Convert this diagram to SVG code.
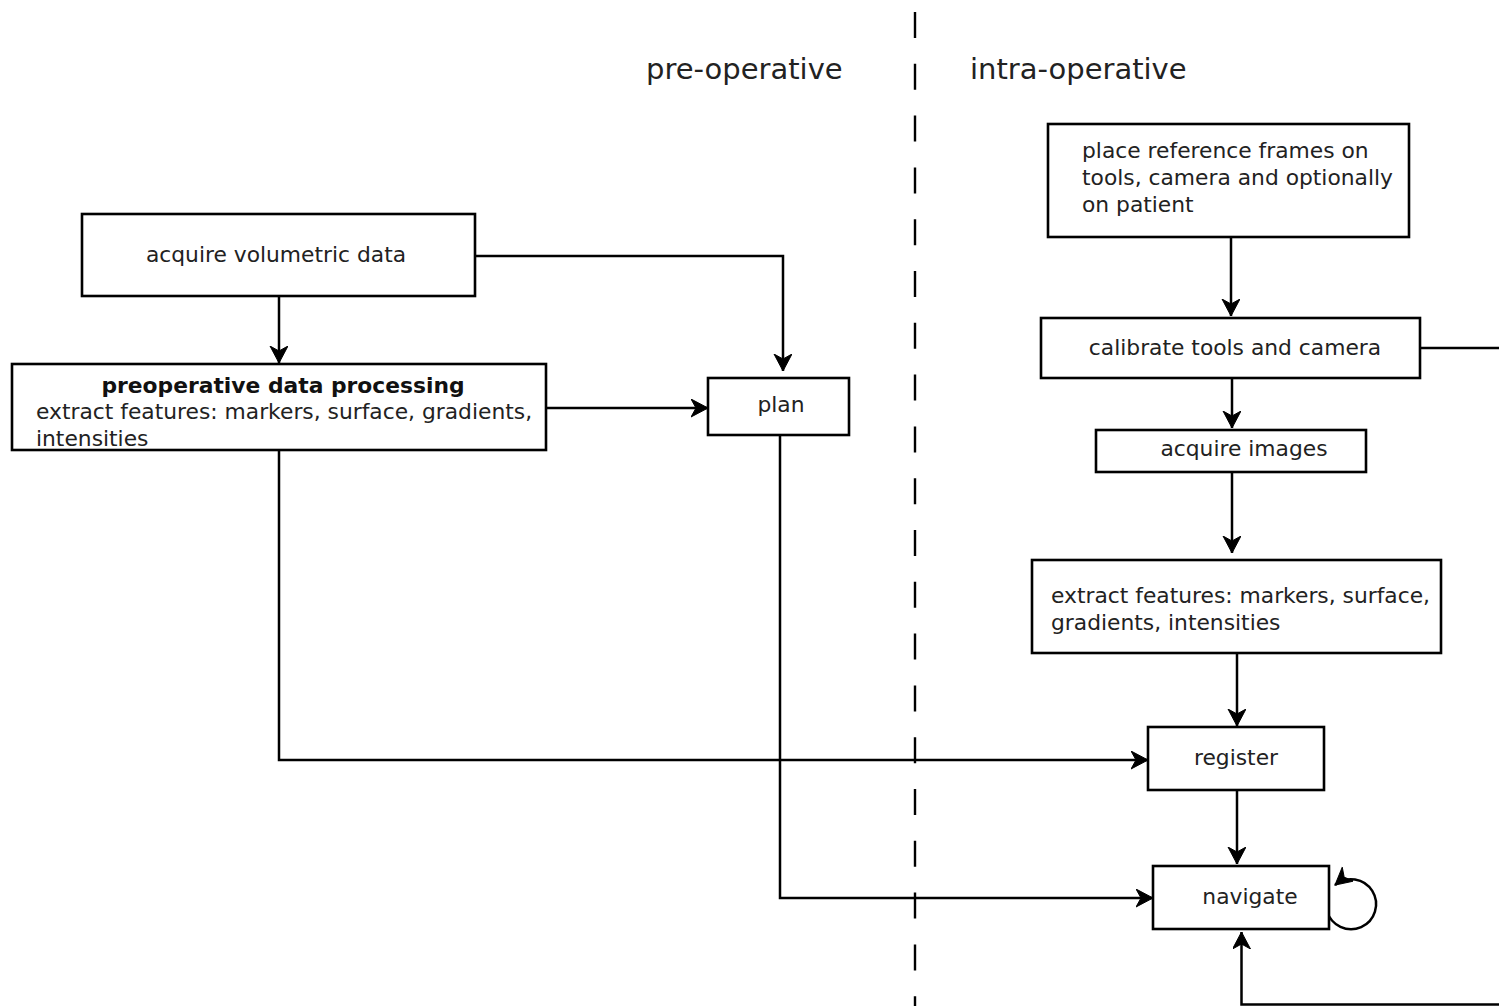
<svg xmlns="http://www.w3.org/2000/svg" width="1499" height="1006" viewBox="0 0 1499 1006">
<style>
.box{fill:#fff;stroke:#000;stroke-width:2.6}
.t{font-family:"DejaVu Sans","Liberation Sans",sans-serif;font-size:21.8px;fill:#222}
.b{font-weight:bold;fill:#111}
.title{font-family:"DejaVu Sans","Liberation Sans",sans-serif;font-size:29px;fill:#222}
.c{fill:none;stroke:#000;stroke-width:2.5}
.a{marker-end:url(#arr)}
</style>
<defs>
<marker id="arr" markerUnits="userSpaceOnUse" markerWidth="20" markerHeight="20" refX="17" refY="9" orient="auto">
<path d="M0,0 L17,9 L0,18 L5,9 z" fill="#000" stroke="#000" stroke-width="1" stroke-linejoin="miter"/>
</marker>
</defs>
<rect width="1499" height="1006" fill="#fff"/>
<g id="divider">
<line x1="915" y1="12" x2="915" y2="1006" stroke="#000" stroke-width="2.4" stroke-dasharray="26 25.8"/>
<text class="title" x="646" y="79">pre-operative</text>
<text class="title" x="970" y="79">intra-operative</text>
</g>
<g id="connectors">
<path class="c a" d="M279,297 L279,363"/>
<path class="c a" d="M475,256 L783,256 L783,371"/>
<path class="c a" d="M546,408 L708,408"/>
<path class="c a" d="M279,450 L279,760 L1148,760"/>
<path class="c a" d="M780,435 L780,898 L1153,898"/>
<path class="c a" d="M1231,237 L1231,316"/>
<path class="c a" d="M1232,378 L1232,428"/>
<path class="c" d="M1420,348 L1499,348"/>
<path class="c a" d="M1232,473 L1232,553"/>
<path class="c a" d="M1237,653 L1237,726"/>
<path class="c a" d="M1237,791 L1237,864"/>
<path class="c a" d="M1499,1004.5 L1241.5,1004.5 L1241.5,932"/>
<path class="c a" d="M1327,911 A25,25 0 1 0 1335,885"/>
</g>
<g id="acquire-volumetric">
<rect class="box" x="82" y="214" width="393" height="82"/>
<text class="t" x="276" y="262" text-anchor="middle">acquire volumetric data</text>
</g>
<g id="preop-processing">
<rect class="box" x="12" y="364" width="534" height="86"/>
<text class="t b" x="283" y="393" text-anchor="middle">preoperative data processing</text>
<text class="t" x="36" y="419">extract features: markers, surface, gradients,</text>
<text class="t" x="36" y="446">intensities</text>
</g>
<g id="plan">
<rect class="box" x="708" y="378" width="141" height="57"/>
<text class="t" x="781" y="412" text-anchor="middle">plan</text>
</g>
<g id="place-frames">
<rect class="box" x="1048" y="124" width="361" height="113"/>
<text class="t" x="1082" y="157.5">place reference frames on</text>
<text class="t" x="1082" y="184.5">tools, camera and optionally</text>
<text class="t" x="1082" y="211.5">on patient</text>
</g>
<g id="calibrate">
<rect class="box" x="1041" y="318" width="379" height="60"/>
<text class="t" x="1235" y="355" text-anchor="middle">calibrate tools and camera</text>
</g>
<g id="acquire-images">
<rect class="box" x="1096" y="430" width="270" height="42"/>
<text class="t" x="1244" y="456" text-anchor="middle">acquire images</text>
</g>
<g id="extract-intra">
<rect class="box" x="1032" y="560" width="409" height="93"/>
<text class="t" x="1051" y="603">extract features: markers, surface,</text>
<text class="t" x="1051" y="630">gradients, intensities</text>
</g>
<g id="register">
<rect class="box" x="1148" y="727" width="176" height="63"/>
<text class="t" x="1236" y="765" text-anchor="middle">register</text>
</g>
<g id="navigate">
<rect class="box" x="1153" y="866" width="176" height="63"/>
<text class="t" x="1250" y="904" text-anchor="middle">navigate</text>
</g>
</svg>
